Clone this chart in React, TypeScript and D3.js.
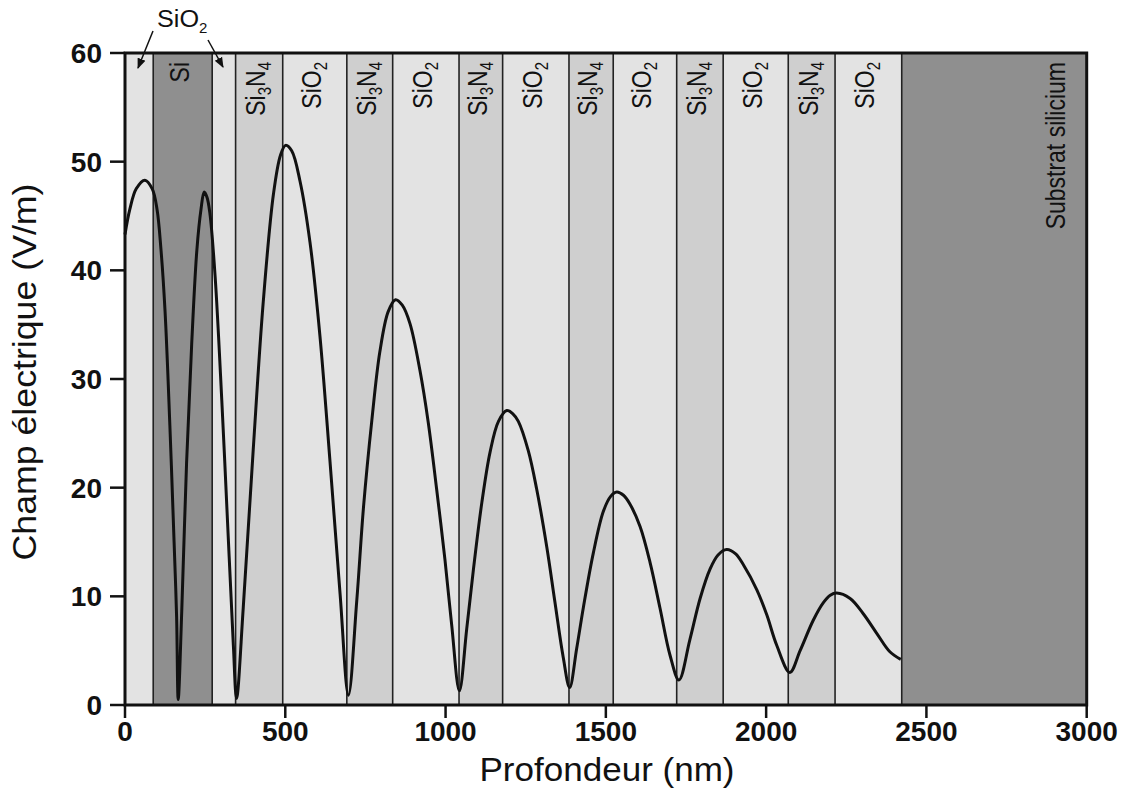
import React from 'react';
import * as d3 from 'd3';

// ---- data ----
const depthNm = [0, 15, 35, 62, 85, 100, 112, 125, 140, 153, 161, 166, 177, 192, 208, 224, 237, 247, 256, 265, 281, 302, 322, 338, 348, 369, 400, 431, 463, 485, 501, 520, 546, 577, 608, 639, 671, 697, 723, 744, 770, 795, 821, 844, 865, 889, 920, 946, 972, 998, 1019, 1043, 1066, 1087, 1113, 1139, 1165, 1191, 1210, 1227, 1258, 1284, 1316, 1341, 1367, 1387, 1409, 1430, 1461, 1492, 1515, 1534, 1555, 1575, 1607, 1638, 1669, 1700, 1728, 1762, 1794, 1825, 1850, 1877, 1905, 1929, 1971, 2002, 2033, 2074, 2106, 2147, 2178, 2200, 2220, 2262, 2303, 2345, 2386, 2420];
const fieldVm = [43.3, 45.6, 47.5, 48.3, 47.5, 45.6, 42.0, 36.2, 25.7, 15.1, 8.1, 0.5, 8.6, 22.2, 33.2, 41.8, 45.6, 47.2, 46.7, 45.2, 39.5, 28.0, 15.5, 5.5, 0.6, 9.0, 23.5, 37.0, 47.0, 50.6, 51.5, 51.0, 48.2, 42.6, 34.0, 22.6, 10.2, 0.9, 9.6, 18.2, 26.2, 32.5, 36.2, 37.3, 36.8, 35.1, 30.8, 26.0, 19.9, 13.4, 7.4, 1.3, 7.0, 12.5, 18.6, 23.3, 26.1, 27.1, 26.8, 26.1, 23.4, 19.9, 14.5, 9.5, 4.4, 1.6, 5.2, 9.0, 14.0, 17.8, 19.2, 19.6, 19.3, 18.5, 16.4, 13.1, 8.9, 4.6, 2.3, 6.0, 9.8, 12.5, 13.8, 14.3, 13.9, 12.9, 10.6, 8.3, 5.5, 3.0, 5.0, 7.8, 9.4, 10.1, 10.3, 9.8, 8.4, 6.6, 4.9, 4.2];

const layerEdges = [0, 88, 272, 345, 492, 692, 835, 1042, 1178, 1385, 1523, 1721, 1866, 2069, 2215, 2423, 3000];
const layerMaterials = ['SiO2', 'Si', 'SiO2', 'Si3N4', 'SiO2', 'Si3N4', 'SiO2', 'Si3N4', 'SiO2', 'Si3N4', 'SiO2', 'Si3N4', 'SiO2', 'Si3N4', 'SiO2', 'Substrat'];
const layerLabelled = [false, true, false, true, true, true, true, true, true, true, true, true, true, true, true, true];

const xTicks = [0, 500, 1000, 1500, 2000, 2500, 3000];
const yTicks = [0, 10, 20, 30, 40, 50, 60];

const xTitle = 'Profondeur (nm)';
const yTitle = 'Champ électrique (V/m)';
const substrateLabel = 'Substrat silicium';

const FONT = "'Liberation Sans', Arial, Helvetica, sans-serif";
const fillFor: Record<string, string> = {
  SiO2: '#e3e3e3',
  Si3N4: '#cfcfcf',
  Si: '#8f8f8f',
  Substrat: '#8f8f8f',
};

const L = 125, R = 1086.7, T = 53, B = 705;

function LayerLabel({ mat, cx }: { mat: string; cx: number }) {
  const top = 62;
  const S = 1.22;
  const fs = 23;
  const sub = 15;
  if (mat === 'Substrat') {
    return (
      <text transform={`translate(${1065},${top}) rotate(-90) scale(1,${S})`} textAnchor="end" fontSize={fs} fontFamily={FONT} fill="#111">
        {substrateLabel}
      </text>
    );
  }
  const bx = cx + 6;
  let content: React.ReactNode;
  if (mat === 'Si') content = 'Si';
  else if (mat === 'SiO2')
    content = (<>SiO<tspan fontSize={sub} dy={5}>2</tspan></>);
  else
    content = (<>Si<tspan fontSize={sub} dy={5}>3</tspan><tspan dy={-5}>N</tspan><tspan fontSize={sub} dy={5}>4</tspan></>);
  return (
    <text transform={`translate(${bx},${top}) rotate(-90) scale(1,${S})`} textAnchor="end" fontSize={fs} fontFamily={FONT} fill="#111">
      {content}
    </text>
  );
}

export default function App() {
  const x = d3.scaleLinear().domain([0, 3000]).range([L, R]);
  const y = d3.scaleLinear().domain([0, 60]).range([B, T]);
  const pts = depthNm.map((d, i) => [d, fieldVm[i]] as [number, number]);
  const line = d3.line<[number, number]>().x(d => x(d[0])).y(d => y(d[1])).curve(d3.curveCatmullRom.alpha(0.5));

  const layers = layerMaterials.map((m, i) => ({ m, x0: layerEdges[i], x1: layerEdges[i + 1], lab: layerLabelled[i] }));

  return (
    <div style={{ position: 'absolute', left: 0, top: 0 }}>
      <svg width={1127} height={803} style={{ display: 'block', background: '#fff' }}>
        <defs>
          <marker id="ah" viewBox="0 0 10 10" refX="9" refY="5" markerWidth="7" markerHeight="7" orient="auto">
            <path d="M0,1 L10,5 L0,9 z" fill="#111" />
          </marker>
        </defs>
        {layers.map((l, i) => (
          <rect key={'r' + i} x={x(l.x0)} y={T} width={x(l.x1) - x(l.x0)} height={B - T} fill={fillFor[l.m]} />
        ))}
        {layerEdges.slice(1, -1).map((e, i) => (
          <line key={'b' + i} x1={x(e)} x2={x(e)} y1={T} y2={B} stroke="#222" strokeWidth={1.6} />
        ))}
        {layers.map((l, i) => l.lab ? <LayerLabel key={'t' + i} mat={l.m} cx={(x(l.x0) + x(l.x1)) / 2} /> : null)}

        <path d={line(pts) || ''} fill="none" stroke="#111" strokeWidth={3} strokeLinejoin="round" />

        {/* frame */}
        <rect x={L} y={T} width={R - L} height={B - T} fill="none" stroke="#111" strokeWidth={3} />

        {/* y ticks */}
        {yTicks.map(t => (
          <g key={'yt' + t}>
            <line x1={L - 15} x2={L} y1={y(t)} y2={y(t)} stroke="#111" strokeWidth={2.5} />
            <text x={102} y={y(t)} dy="0.36em" textAnchor="end" fontSize={28} fontWeight="bold" fontFamily={FONT} fill="#111">{t}</text>
          </g>
        ))}
        {/* x ticks */}
        {xTicks.map(t => (
          <g key={'xt' + t}>
            <line x1={x(t)} x2={x(t)} y1={B} y2={B + 13} stroke="#111" strokeWidth={2.5} />
            <text x={x(t)} y={741} textAnchor="middle" fontSize={28} fontWeight="bold" fontFamily={FONT} fill="#111">{t}</text>
          </g>
        ))}

        <text x={607} y={781} textAnchor="middle" fontSize={33} fontFamily={FONT} fill="#111" textLength={255} lengthAdjust="spacingAndGlyphs">{xTitle}</text>
        <text transform={`translate(36,372) rotate(-90)`} textAnchor="middle" fontSize={34} fontFamily={FONT} fill="#111" textLength={377} lengthAdjust="spacingAndGlyphs">{yTitle}</text>

        {/* SiO2 annotation */}
        <text x={157} y={27} fontSize={23} fontFamily={FONT} fill="#111"><tspan textLength={42} lengthAdjust="spacingAndGlyphs">SiO</tspan><tspan fontSize={15} dy={6}>2</tspan></text>
        <line x1={153} y1={31} x2={138} y2={68} stroke="#111" strokeWidth={1.5} markerEnd="url(#ah)" />
        <line x1={208} y1={40} x2={223} y2={67} stroke="#111" strokeWidth={1.5} markerEnd="url(#ah)" />
      </svg>
    </div>
  );
}
